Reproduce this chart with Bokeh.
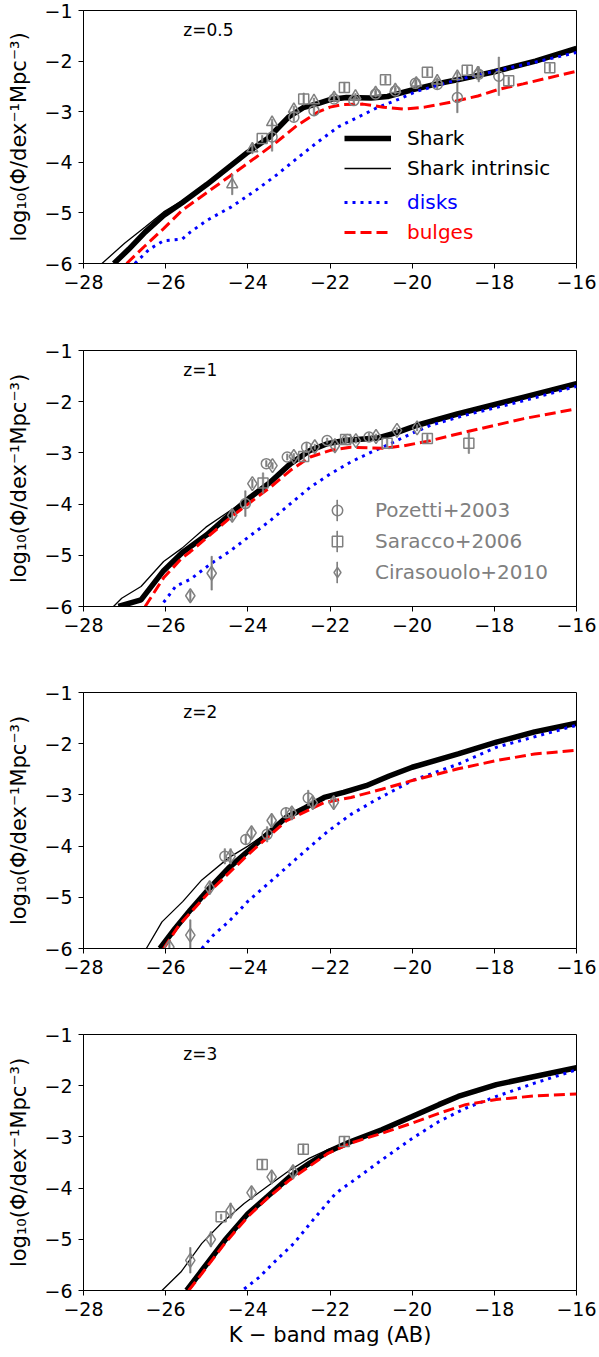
from bokeh.plotting import figure
from bokeh.layouts import column
from bokeh.models import Legend, LegendItem, FixedTicker, Label
from bokeh.embed import file_html
from bokeh.resources import INLINE

FONT = "DejaVu Sans"
GREY = "#808080"

X_TICKS = [-28, -26, -24, -22, -20, -18, -16]
Y_TICKS = [-6, -5, -4, -3, -2, -1]
Z_LABELS = ["z=0.5", "z=1", "z=2", "z=3"]
Y_LABEL = "log\u2081\u2080(\u03a6/dex\u207b\u00b9Mpc\u207b\u00b3)"
X_LABEL = "K \u2212 band mag (AB)"

# ---------------- z = 0.5 ----------------
Z05_SHARK_MAG = [-27.26, -26.9, -26.5, -26.05, -25.6, -25.0, -24.5, -24.0, -23.5, -23.0, -22.65, -22.3, -22.0, -21.6, -21.0, -20.6, -20.0, -19.4, -18.9, -18.0, -17.0, -16.0]
Z05_SHARK_PHI = [-6.0, -5.72, -5.38, -5.05, -4.8, -4.44, -4.12, -3.8, -3.52, -3.1, -2.92, -2.84, -2.76, -2.72, -2.73, -2.7, -2.57, -2.45, -2.37, -2.21, -2.0, -1.75]
Z05_INTR_MAG = [-27.55, -27.0, -26.5, -26.05, -25.6, -25.0, -24.5, -24.0, -23.5, -23.0, -22.65, -22.3, -22.0, -21.6, -21.0, -20.6, -20.0, -19.4, -18.9, -18.0, -17.0, -16.0]
Z05_INTR_PHI = [-6.0, -5.6, -5.28, -4.98, -4.76, -4.42, -4.11, -3.8, -3.52, -3.1, -2.92, -2.84, -2.76, -2.72, -2.73, -2.7, -2.57, -2.45, -2.37, -2.21, -2.0, -1.75]
Z05_DISK_MAG = [-26.75, -26.4, -26.05, -25.6, -25.4, -25.0, -24.4, -23.8, -23.3, -22.8, -22.3, -21.8, -21.3, -20.85, -20.35, -19.9, -18.9, -18.0, -17.0, -16.0]
Z05_DISK_PHI = [-6.0, -5.72, -5.55, -5.52, -5.38, -5.15, -4.88, -4.55, -4.25, -3.92, -3.6, -3.3, -3.1, -2.92, -2.76, -2.6, -2.37, -2.2, -2.02, -1.83]
Z05_BULGE_MAG = [-26.95, -26.5, -26.05, -25.6, -25.0, -24.4, -23.8, -23.3, -22.8, -22.3, -22.0, -21.7, -21.2, -20.7, -20.2, -19.7, -19.1, -18.4, -17.9, -17.3, -16.0]
Z05_BULGE_PHI = [-6.0, -5.65, -5.31, -4.95, -4.6, -4.25, -3.9, -3.6, -3.27, -3.01, -2.91, -2.86, -2.85, -2.91, -2.95, -2.91, -2.82, -2.69, -2.56, -2.45, -2.2]
Z05_POZ_MAG = [-23.41, -22.88, -22.39, -21.9, -21.42, -20.89, -20.41, -19.92, -19.39, -18.9, -18.38, -17.89]
Z05_POZ_PHI = [-3.5, -3.11, -2.98, -2.75, -2.78, -2.65, -2.59, -2.44, -2.46, -2.72, -2.26, -2.3]
Z05_POZ_ERR = [0.28, 0.08, 0.1, 0.06, 0.06, 0.06, 0.06, 0.08, 0.1, 0.3, 0.15, 0.38]
Z05_SAR_MAG = [-23.65, -22.64, -21.65, -20.65, -19.63, -18.66, -17.65, -16.65]
Z05_SAR_PHI = [-3.53, -2.75, -2.52, -2.37, -2.22, -2.18, -2.39, -2.13]
Z05_SAR_ERR = [0.06, 0.12, 0.1, 0.08, 0.08, 0.08, 0.08, 0.08]
Z05_CIR_MAG = [-24.38, -23.89, -23.41, -22.88, -22.39, -21.9, -21.38, -20.89, -20.41, -19.9, -19.39, -18.9, -18.4]
Z05_CIR_PHI = [-4.44, -3.73, -3.21, -2.95, -2.78, -2.72, -2.69, -2.62, -2.56, -2.43, -2.39, -2.3, -2.23]
Z05_CIR_ERR = [0.2, 0.1, 0.06, 0.06, 0.05, 0.05, 0.05, 0.05, 0.05, 0.06, 0.06, 0.08, 0.12]

# ---------------- z = 1 ----------------
Z1_SHARK_MAG = [-27.15, -26.6, -26.05, -25.6, -25.0, -24.42, -23.93, -23.45, -22.96, -22.48, -22.07, -21.67, -20.85, -20.36, -19.88, -18.9, -17.28, -16.0]
Z1_SHARK_PHI = [-6.0, -5.87, -5.3, -4.95, -4.6, -4.19, -3.86, -3.57, -3.21, -2.95, -2.82, -2.76, -2.71, -2.6, -2.46, -2.24, -1.91, -1.65]
Z1_INTR_MAG = [-27.27, -27.07, -26.6, -26.05, -25.6, -25.02, -24.47, -23.93, -23.45, -22.96, -22.48, -22.07, -21.67, -20.85, -20.36, -19.88, -18.9, -17.28, -16.0]
Z1_INTR_PHI = [-6.0, -5.84, -5.61, -5.12, -4.86, -4.45, -4.15, -3.86, -3.57, -3.21, -2.95, -2.82, -2.76, -2.71, -2.6, -2.46, -2.24, -1.91, -1.65]
Z1_DISK_MAG = [-26.05, -25.75, -25.4, -24.91, -24.42, -23.93, -23.45, -22.96, -22.48, -21.99, -21.5, -21.01, -20.53, -20.04, -19.55, -18.74, -17.28, -16.0]
Z1_DISK_PHI = [-5.92, -5.6, -5.47, -5.17, -4.91, -4.61, -4.32, -3.99, -3.67, -3.41, -3.18, -2.99, -2.82, -2.63, -2.46, -2.27, -1.98, -1.7]
Z1_BULGE_MAG = [-26.5, -26.05, -25.6, -25.4, -24.42, -23.93, -23.45, -22.96, -22.48, -21.99, -21.5, -20.69, -20.2, -19.55, -18.74, -17.93, -17.28, -16.0]
Z1_BULGE_PHI = [-6.0, -5.44, -5.05, -4.93, -4.26, -3.96, -3.67, -3.34, -3.08, -2.95, -2.89, -2.91, -2.86, -2.76, -2.6, -2.45, -2.33, -2.14]
Z1_POZ_MAG = [-24.06, -23.55, -23.04, -22.57, -22.07, -21.58, -21.05]
Z1_POZ_PHI = [-3.99, -3.21, -3.08, -2.89, -2.76, -2.74, -2.69]
Z1_POZ_ERR = [0.25, 0.06, 0.06, 0.08, 0.05, 0.05, 0.08]
Z1_SAR_MAG = [-23.63, -22.64, -21.62, -20.61, -19.63, -18.62]
Z1_SAR_PHI = [-3.59, -3.07, -2.74, -2.81, -2.72, -2.81]
Z1_SAR_ERR = [0.2, 0.08, 0.08, 0.08, 0.08, 0.2]
Z1_CIR_MAG = [-25.4, -24.88, -24.38, -23.89, -23.4, -22.88, -22.37, -21.88, -21.37, -20.88, -20.37, -19.88]
Z1_CIR_PHI = [-5.79, -5.35, -4.22, -3.6, -3.25, -3.07, -2.88, -2.86, -2.76, -2.68, -2.56, -2.51]
Z1_CIR_ERR = [0.1, 0.33, 0.1, 0.08, 0.06, 0.06, 0.05, 0.05, 0.05, 0.05, 0.05, 0.06]

# ---------------- z = 2 ----------------
Z2_SHARK_MAG = [-26.14, -25.77, -25.4, -24.93, -24.47, -24.0, -23.53, -23.07, -22.6, -22.14, -21.67, -21.12, -20.56, -20.0, -18.88, -17.95, -17.02, -16.0]
Z2_SHARK_PHI = [-6.0, -5.61, -5.25, -4.82, -4.43, -4.1, -3.77, -3.44, -3.25, -3.05, -2.95, -2.82, -2.63, -2.46, -2.2, -1.97, -1.77, -1.6]
Z2_INTR_MAG = [-26.47, -26.09, -25.58, -25.12, -24.47, -24.0, -23.53, -23.07, -22.6, -22.14, -21.67, -21.12, -20.56, -20.0, -18.88, -17.95, -17.02, -16.0]
Z2_INTR_PHI = [-6.0, -5.48, -5.08, -4.66, -4.23, -4.0, -3.74, -3.44, -3.25, -3.05, -2.95, -2.82, -2.63, -2.46, -2.2, -1.97, -1.77, -1.6]
Z2_DISK_MAG = [-25.12, -24.84, -24.47, -24.0, -23.53, -22.98, -22.51, -22.05, -21.49, -20.93, -20.0, -18.88, -17.95, -16.0]
Z2_DISK_PHI = [-6.0, -5.74, -5.48, -5.08, -4.75, -4.36, -4.03, -3.71, -3.38, -3.12, -2.72, -2.4, -2.07, -1.64]
Z2_BULGE_MAG = [-26.05, -25.67, -24.93, -24.0, -23.07, -22.14, -21.49, -20.74, -20.0, -18.88, -17.95, -17.02, -16.0]
Z2_BULGE_PHI = [-6.0, -5.54, -4.89, -4.17, -3.51, -3.15, -3.05, -2.89, -2.72, -2.49, -2.33, -2.2, -2.13]
Z2_POZ_MAG = [-24.56, -24.05, -23.53, -23.07, -22.53]
Z2_POZ_PHI = [-4.2, -3.87, -3.77, -3.35, -3.06]
Z2_POZ_ERR = [0.15, 0.1, 0.15, 0.1, 0.15]
Z2_CIR_MAG = [-25.91, -25.4, -24.93, -24.42, -23.91, -23.42, -22.93, -22.42, -21.91]
Z2_CIR_PHI = [-5.97, -5.74, -4.81, -4.2, -3.74, -3.5, -3.35, -3.15, -3.15]
Z2_CIR_ERR = [0.1, 0.3, 0.1, 0.15, 0.1, 0.1, 0.1, 0.1, 0.1]

# ---------------- z = 3 ----------------
Z3_SHARK_MAG = [-25.49, -25.12, -24.56, -24.0, -23.53, -22.98, -22.51, -22.05, -21.49, -20.74, -20.0, -19.35, -18.88, -17.95, -17.02, -16.0]
Z3_SHARK_PHI = [-6.0, -5.61, -5.02, -4.5, -4.17, -3.78, -3.52, -3.29, -3.09, -2.86, -2.6, -2.37, -2.21, -1.98, -1.82, -1.65]
Z3_INTR_MAG = [-26.09, -25.63, -25.12, -24.65, -24.09, -23.53, -22.98, -22.51, -22.05, -21.49, -20.74, -20.0, -19.35, -18.88, -17.95, -17.02, -16.0]
Z3_INTR_PHI = [-6.0, -5.64, -5.08, -4.69, -4.3, -3.97, -3.65, -3.42, -3.25, -3.09, -2.86, -2.6, -2.37, -2.21, -1.98, -1.82, -1.65]
Z3_DISK_MAG = [-24.09, -23.72, -23.35, -22.88, -22.42, -21.86, -21.3, -20.74, -20.0, -19.35, -18.7, -17.95, -17.02, -16.0]
Z3_DISK_PHI = [-5.97, -5.74, -5.44, -5.08, -4.63, -4.1, -3.78, -3.45, -3.03, -2.7, -2.44, -2.21, -1.95, -1.69]
Z3_BULGE_MAG = [-25.44, -25.12, -24.56, -24.0, -23.53, -22.98, -22.51, -22.05, -21.49, -20.74, -20.0, -19.35, -18.7, -17.95, -17.02, -16.0]
Z3_BULGE_PHI = [-6.0, -5.67, -5.08, -4.56, -4.2, -3.84, -3.58, -3.32, -3.12, -2.93, -2.73, -2.54, -2.37, -2.27, -2.2, -2.16]
Z3_SAR_MAG = [-24.65, -23.65, -22.65, -21.65]
Z3_SAR_PHI = [-4.56, -3.54, -3.24, -3.09]
Z3_SAR_ERR = [0.05, 0.1, 0.1, 0.1]
Z3_CIR_MAG = [-25.4, -24.9, -24.42, -23.91, -23.42, -22.9]
Z3_CIR_PHI = [-5.41, -5.0, -4.44, -4.09, -3.78, -3.68]
Z3_CIR_ERR = [0.25, 0.15, 0.15, 0.1, 0.1, 0.12]


def legend_common():
    return dict(border_line_color=None, background_fill_alpha=0, padding=0, margin=0,
                label_text_font=FONT, label_text_font_size="20px",
                glyph_height=26, label_height=26, spacing=5)


def make_panel(height, top, bottom, zlab, curves, datasets, xlabel=False):
    p = figure(width=599, height=height, x_range=(-28, -16), y_range=(-6, -1),
               output_backend="svg", toolbar_location=None,
               min_border_left=83, min_border_right=23, min_border_top=top,
               min_border_bottom=bottom)
    p.grid.visible = False
    p.outline_line_color = "black"
    p.outline_line_alpha = 1
    p.background_fill_color = "white"
    p.border_fill_color = "white"
    for ax, ticks in ((p.xaxis[0], X_TICKS), (p.yaxis[0], Y_TICKS)):
        ax.ticker = FixedTicker(ticks=ticks)
        ax.major_label_overrides = {t: str(t).replace("-", "\u2212") for t in ticks}
        ax.major_label_text_font = FONT
        ax.major_label_text_font_size = "19px"
        ax.major_label_text_color = "black"
        ax.major_tick_out = 5
        ax.major_tick_in = 0
        ax.minor_tick_line_color = None
        ax.axis_line_color = "black"
        ax.major_tick_line_color = "black"
        ax.major_label_standoff = 6
        ax.axis_label_text_font = FONT
        ax.axis_label_text_font_style = "normal"
        ax.axis_label_text_font_size = "21px"
        ax.axis_label_text_color = "black"
    p.yaxis[0].axis_label = Y_LABEL
    p.yaxis[0].axis_label_standoff = 10
    if xlabel:
        p.xaxis[0].axis_label = X_LABEL
        p.xaxis[0].axis_label_standoff = 4

    (sm, sp), (im, ip), (dm, dp), (bm, bp) = curves
    r_shark = p.line(sm, sp, line_color="black", line_width=5.5)
    r_intr = p.line(im, ip, line_color="black", line_width=1.3)
    r_disk = p.line(dm, dp, line_color="#0000ff", line_width=3, line_dash="3 5")
    r_bulge = p.line(bm, bp, line_color="#ff0000", line_width=3, line_dash="11 5")

    rends = {}
    for name, marker, size, (mg, ph, er) in datasets:
        bars = p.vbar(x=mg, bottom=[a - e for a, e in zip(ph, er)],
                      top=[a + e for a, e in zip(ph, er)], width=0.035,
                      fill_color=GREY, line_color=GREY, line_width=0.6)
        pts = p.scatter(mg, ph, marker=marker, size=size, fill_color=None,
                        line_color=GREY, line_width=1.5)
        rends[name] = (pts, bars)

    p.add_layout(Label(x=-25.57, y=-1.39, text=zlab, text_font=FONT,
                       text_font_size="17px", text_baseline="middle",
                       text_align="left", text_color="black"))
    return p, (r_shark, r_intr, r_disk, r_bulge), rends


p1, lines1, _ = make_panel(
    330, 10, 67, Z_LABELS[0],
    [(Z05_SHARK_MAG, Z05_SHARK_PHI), (Z05_INTR_MAG, Z05_INTR_PHI),
     (Z05_DISK_MAG, Z05_DISK_PHI), (Z05_BULGE_MAG, Z05_BULGE_PHI)],
    [("poz", "circle", 10, (Z05_POZ_MAG, Z05_POZ_PHI, Z05_POZ_ERR)),
     ("sar", "square", 10, (Z05_SAR_MAG, Z05_SAR_PHI, Z05_SAR_ERR)),
     ("tri", "triangle", 11, (Z05_CIR_MAG, Z05_CIR_PHI, Z05_CIR_ERR))])

model_labels = [("Shark", "black", 112), ("Shark intrinsic", "black", 82),
                ("disks", "#0000ff", 48), ("bulges", "#ff0000", 18)]
for (lab, col, ypos), r in zip(model_labels, lines1):
    lg = Legend(items=[LegendItem(label=lab, renderers=[r])], location=(261, ypos),
                label_text_color=col, glyph_width=47, label_standoff=16, **legend_common())
    p1.add_layout(lg)

p2, _, rends2 = make_panel(
    342, 20, 66, Z_LABELS[1],
    [(Z1_SHARK_MAG, Z1_SHARK_PHI), (Z1_INTR_MAG, Z1_INTR_PHI),
     (Z1_DISK_MAG, Z1_DISK_PHI), (Z1_BULGE_MAG, Z1_BULGE_PHI)],
    [("poz", "circle", 10, (Z1_POZ_MAG, Z1_POZ_PHI, Z1_POZ_ERR)),
     ("sar", "square", 10, (Z1_SAR_MAG, Z1_SAR_PHI, Z1_SAR_ERR)),
     ("cir", "diamond", 14, (Z1_CIR_MAG, Z1_CIR_PHI, Z1_CIR_ERR))])

obs_labels = ["Pozetti+2003", "Saracco+2006", "Cirasouolo+2010"]
obs_keys = ["poz", "sar", "cir"]
err_legend = Legend(items=[LegendItem(label=" ", renderers=[rends2[k][1]]) for k in obs_keys],
                    location=(253, 21), glyph_width=2, label_standoff=5,
                    label_text_color=GREY, **legend_common())
p2.add_layout(err_legend)
obs_legend = Legend(items=[LegendItem(label=lab, renderers=[rends2[k][0]])
                           for lab, k in zip(obs_labels, obs_keys)],
                    location=(234, 21), glyph_width=40, label_standoff=18,
                    label_text_color=GREY, **legend_common())
p2.add_layout(obs_legend)

p3, _, _ = make_panel(
    342, 20, 66, Z_LABELS[2],
    [(Z2_SHARK_MAG, Z2_SHARK_PHI), (Z2_INTR_MAG, Z2_INTR_PHI),
     (Z2_DISK_MAG, Z2_DISK_PHI), (Z2_BULGE_MAG, Z2_BULGE_PHI)],
    [("poz", "circle", 10, (Z2_POZ_MAG, Z2_POZ_PHI, Z2_POZ_ERR)),
     ("cir", "diamond", 14, (Z2_CIR_MAG, Z2_CIR_PHI, Z2_CIR_ERR))])

p4, _, _ = make_panel(
    343, 20, 67, Z_LABELS[3],
    [(Z3_SHARK_MAG, Z3_SHARK_PHI), (Z3_INTR_MAG, Z3_INTR_PHI),
     (Z3_DISK_MAG, Z3_DISK_PHI), (Z3_BULGE_MAG, Z3_BULGE_PHI)],
    [("sar", "square", 10, (Z3_SAR_MAG, Z3_SAR_PHI, Z3_SAR_ERR)),
     ("cir", "diamond", 14, (Z3_CIR_MAG, Z3_CIR_PHI, Z3_CIR_ERR))],
    xlabel=True)

layout = column(p1, p2, p3, p4, spacing=0)
open("out.html", "w").write(file_html(layout, INLINE))
